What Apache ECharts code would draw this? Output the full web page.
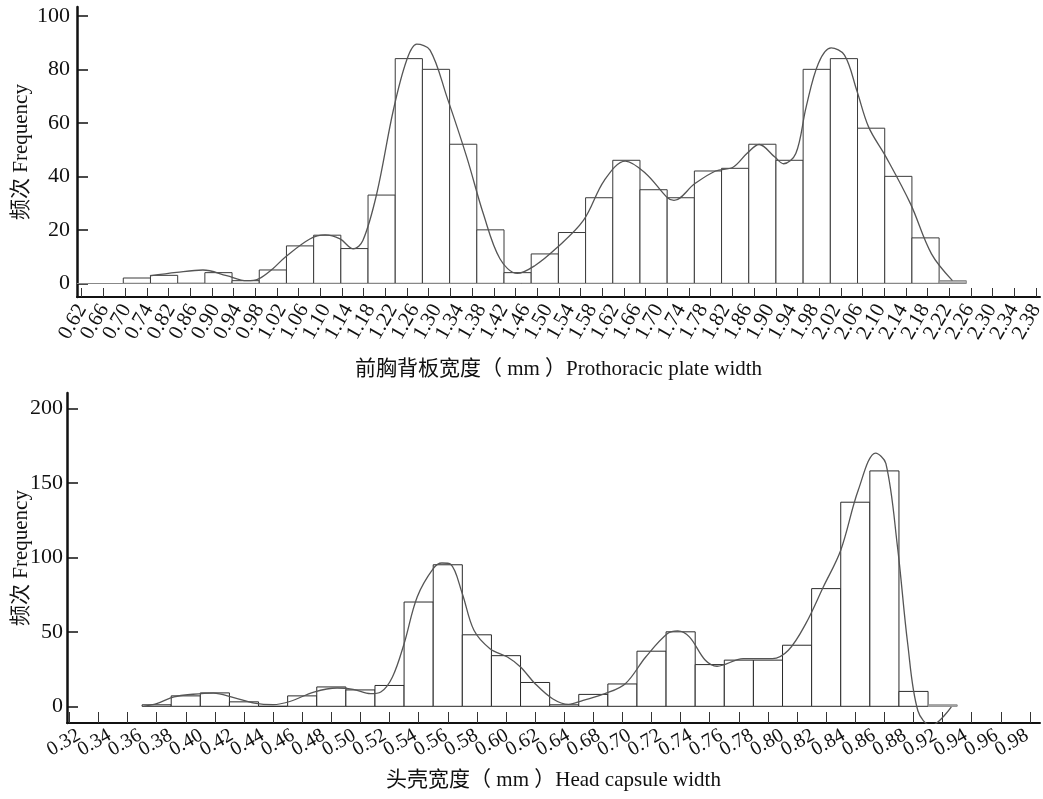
<!DOCTYPE html>
<html>
<head>
<meta charset="utf-8">
<script src="https://cdn.jsdelivr.net/npm/echarts@6/dist/echarts.min.js"></script>
<style>
html,body{margin:0;padding:0;background:#fff;}
#chart{width:1043px;height:799px;}
</style>
</head>
<body>
<div id="chart"></div>
<script>
// ---------- Upper panel: prothoracic plate width ----------
const prothoraxCounts = [2, 3, 0, 4, 1, 5, 14, 18, 13, 33, 84, 80, 52, 20, 4, 11, 19, 32, 46, 35, 32, 42, 43, 52, 46, 80, 84, 58, 40, 17, 1];
// fitted curve, x in bin units (bin i spans i..i+1), y = frequency
const prothoraxCurve = [
  [0.98, 2.8], [1.96, 4.1], [2.93, 5.0], [3.80, 2.9], [4.54, 1.0], [4.96, 1.6], [5.50, 5.5], [5.94, 9.7],
  [6.86, 16.6], [7.42, 18.1], [7.97, 16.6], [8.46, 12.9], [8.81, 16.0], [9.32, 33.5], [9.93, 64.7],
  [10.42, 83.4], [10.79, 89.4], [11.28, 87.2], [11.90, 69.7], [12.63, 47.2], [13.24, 26.0], [13.85, 9.2],
  [14.49, 3.7], [15.13, 6.6], [15.90, 12.9], [16.92, 23.5], [17.69, 38.5], [18.46, 45.7], [19.22, 41.0],
  [19.99, 32.2], [20.25, 31.0], [21.01, 37.2], [21.78, 42.0], [22.42, 43.4], [22.93, 48.5], [23.38, 51.9],
  [23.96, 47.2], [24.28, 44.7], [24.73, 48.5], [25.11, 65.9], [25.56, 82.2], [26.03, 88.0], [26.52, 85.3],
  [26.97, 72.2], [27.41, 58.4], [28.05, 47.2], [28.95, 29.7], [29.72, 11.0], [30.49, 1.0]
];
const prothoraxPeakNames = ['1', '2', '3', '4', '5', '6'];
const prothoraxPeakPos = [[3.21, 9.1], [7.64, 24.1], [11.06, 95.9], [18.69, 53.2], [23.47, 60.1], [26.07, 95.9]];
const prothoraxTickValues = [0.62, 0.66, 0.70, 0.74, 0.78, 0.82, 0.86, 0.90, 0.94, 0.98, 1.02, 1.06, 1.10, 1.14, 1.18,
  1.22, 1.26, 1.30, 1.34, 1.38, 1.42, 1.46, 1.50, 1.54, 1.58, 1.62, 1.66, 1.70, 1.74, 1.78, 1.82, 1.86, 1.90,
  1.94, 1.98, 2.02, 2.06, 2.10, 2.14, 2.18, 2.22, 2.26, 2.30, 2.34, 2.38];
const prothoraxTickLabels = ['0.62', '0.66', '0.70', '0.74', '0.82', '0.86', '0.90', '0.94', '0.98', '1.02', '1.06',
  '1.10', '1.14', '1.18', '1.22', '1.26', '1.30', '1.34', '1.38', '1.42', '1.46', '1.50', '1.54', '1.58', '1.62',
  '1.66', '1.70', '1.74', '1.78', '1.82', '1.86', '1.90', '1.94', '1.98', '2.02', '2.06', '2.10', '2.14', '2.18',
  '2.22', '2.26', '2.30', '2.34', '2.38'];
const prothoraxFreqTicks = [0, 20, 40, 60, 80, 100];

// ---------- Lower panel: head capsule width ----------
const headCenters = [0.38, 0.40, 0.42, 0.44, 0.46, 0.48, 0.50, 0.52, 0.54, 0.56, 0.58, 0.60, 0.62, 0.64,
  0.66, 0.68, 0.70, 0.72, 0.74, 0.76, 0.78, 0.80, 0.82, 0.84, 0.86, 0.88, 0.90, 0.92];
const headCounts = [1, 7, 9, 3, 0, 7, 13, 11, 14, 70, 95, 48, 34, 16, 1, 8, 15, 37, 50, 28, 31, 31, 41, 79, 137, 158, 10, 1];
const headCurve = [
  [0.371, 0], [0.380, 1.8], [0.392, 6.3], [0.405, 8.1], [0.419, 8.9], [0.433, 5.8], [0.447, 2.2], [0.460, 1.1],
  [0.472, 3.4], [0.488, 9.6], [0.504, 12.3], [0.515, 11.4], [0.527, 8.5], [0.534, 9.6], [0.542, 19.7],
  [0.550, 42.0], [0.559, 73.4], [0.570, 92.4], [0.576, 96.2], [0.582, 95.3], [0.590, 75.6], [0.598, 51.0],
  [0.609, 38.7], [0.621, 33.1], [0.630, 26.4], [0.640, 15.2], [0.652, 5.1], [0.663, 1.3], [0.673, 4.0],
  [0.688, 8.5], [0.702, 15.2], [0.716, 33.1], [0.731, 48.8], [0.738, 50.6], [0.746, 46.6], [0.757, 30.9],
  [0.765, 26.9], [0.783, 32.0], [0.803, 32.0], [0.814, 37.6], [0.826, 55.5], [0.838, 80.1], [0.850, 104.8],
  [0.862, 145.0], [0.874, 170.0], [0.881, 163.0], [0.889, 107.0], [0.896, 42.0], [0.903, -3.0], [0.912, -13.0],
  [0.926, -0.4]
];
const headPeakNames = ['1', '2', '3', '4', '5'];
const headPeakPos = [[0.4237, 24.6], [0.5107, 23.1], [0.5817, 110.3], [0.7379, 62.7], [0.8747, 188.7]];
const headTickValues = [0.32, 0.34, 0.36, 0.38, 0.40, 0.42, 0.44, 0.46, 0.48, 0.50, 0.52, 0.54, 0.56, 0.58,
  0.60, 0.62, 0.64, 0.66, 0.68, 0.70, 0.72, 0.74, 0.76, 0.78, 0.80, 0.82, 0.84, 0.86, 0.88, 0.90, 0.92,
  0.94, 0.96, 0.98];
const headTickLabels = ['0.32', '0.34', '0.36', '0.38', '0.40', '0.42', '0.44', '0.46', '0.48', '0.50', '0.52',
  '0.54', '0.56', '0.58', '0.60', '0.62', '0.64', '0.68', '0.70', '0.72', '0.74', '0.76', '0.78', '0.80',
  '0.82', '0.84', '0.86', '0.88', '0.92', '0.94', '0.96', '0.98'];
const headFreqTicks = [0, 50, 100, 150, 200];

// ---------- styling constants ----------
const SERIF = "'Liberation Serif', 'Noto Sans CJK SC', serif";
const SANS = "'Liberation Sans', Arial, sans-serif";
const INK = '#111';
const BIN_AXIS_MIN = -1.702;
const BIN_AXIS_MAX = 33.71;
const HEAD_BIN_WIDTH = 0.02;

const chart = echarts.init(document.getElementById('chart'), null, { renderer: 'canvas' });

function topBarItem(params, api) {
  const i = api.value(0), v = api.value(1);
  const a = api.coord([i, v]);
  const b = api.coord([i + 1, 0]);
  const last = params.dataIndex === prothoraxCounts.length - 1;
  return {
    type: 'rect',
    shape: { x: a[0], y: a[1], width: b[0] - a[0], height: b[1] - a[1] },
    style: { fill: last ? '#b8b8b8' : '#fff', stroke: last ? '#888' : '#3a3a3a', lineWidth: 1 }
  };
}
function bottomBarItem(params, api) {
  const c = api.value(0), v = api.value(1);
  const a = api.coord([c - HEAD_BIN_WIDTH / 2, v]);
  const b = api.coord([c + HEAD_BIN_WIDTH / 2, 0]);
  const last = params.dataIndex === headCounts.length - 1;
  return {
    type: 'rect',
    shape: { x: a[0], y: a[1], width: b[0] - a[0], height: b[1] - a[1] },
    style: { fill: last ? '#b8b8b8' : '#fff', stroke: last ? '#888' : '#2a2a2a', lineWidth: 1 }
  };
}

const tickLabelStyle = { fontFamily: SERIF, color: INK };

const option = {
  animation: false,
  backgroundColor: '#fff',
  grid: [
    { left: 77, right: 3, top: 7, height: 290, containLabel: false, outerBoundsMode: 'none' },
    { left: 82, right: 7, top: 7, height: 290, containLabel: false, outerBoundsMode: 'none' },
    { left: 67, right: 3, top: 393, height: 330, containLabel: false, outerBoundsMode: 'none' },
    { left: 79, right: 16, top: 393, height: 330, containLabel: false, outerBoundsMode: 'none' }
  ],
  xAxis: [
    { // 0: upper, mm scale (ticks)
      gridIndex: 0, type: 'value', min: 0.6113, max: 2.3873, position: 'bottom',
      axisLine: { show: true, onZero: false, lineStyle: { color: INK, width: 2 } },
      axisTick: { show: true, inside: true, length: 9, customValues: prothoraxTickValues, lineStyle: { color: '#333', width: 1 } },
      axisLabel: { show: false },
      splitLine: { show: false },
      name: '前胸背板宽度（ mm ）Prothoracic plate width', nameLocation: 'middle', nameGap: 62,
      nameMoveOverlap: false,
      nameTextStyle: { fontFamily: SERIF, fontSize: 21, color: INK }
    },
    { // 1: upper, bin index (hidden)
      gridIndex: 0, type: 'value', min: BIN_AXIS_MIN, max: BIN_AXIS_MAX, show: false
    },
    { // 2: upper tick labels
      gridIndex: 1, type: 'category', data: prothoraxTickLabels, boundaryGap: false, position: 'bottom',
      axisLine: { show: false }, axisTick: { show: false }, splitLine: { show: false },
      axisLabel: Object.assign({ interval: 0, rotate: 60, margin: 9, fontSize: 21 }, tickLabelStyle)
    },
    { // 3: lower, mm scale (ticks)
      gridIndex: 2, type: 'value', min: 0.3184, max: 0.9869, position: 'bottom',
      axisLine: { show: true, onZero: false, lineStyle: { color: INK, width: 2 } },
      axisTick: { show: true, inside: true, length: 11, customValues: headTickValues, lineStyle: { color: '#333', width: 1 } },
      axisLabel: { show: false },
      splitLine: { show: false },
      name: '头壳宽度（ mm ）Head capsule width', nameLocation: 'middle', nameGap: 47,
      nameMoveOverlap: false,
      nameTextStyle: { fontFamily: SERIF, fontSize: 21, color: INK }
    },
    { // 4: lower tick labels
      gridIndex: 3, type: 'category', data: headTickLabels, boundaryGap: false, position: 'bottom',
      axisLine: { show: false }, axisTick: { show: false }, splitLine: { show: false },
      axisLabel: Object.assign({ interval: 0, rotate: 30, margin: 11, fontSize: 20 }, tickLabelStyle)
    }
  ],
  yAxis: [
    {
      gridIndex: 0, type: 'value', min: -5.1, max: 103.3,
      axisLine: { show: true, onZero: false, lineStyle: { color: INK, width: 2.5 } },
      axisTick: { show: true, inside: true, length: 11, customValues: prothoraxFreqTicks, lineStyle: { color: INK, width: 1.5 } },
      axisLabel: Object.assign({ customValues: prothoraxFreqTicks, fontSize: 22, margin: 7 }, tickLabelStyle),
      splitLine: { show: false },
      name: '频次 Frequency', nameLocation: 'middle', nameGap: 45,
      nameMoveOverlap: false,
      nameTextStyle: { fontFamily: SERIF, fontSize: 21, color: INK }
    },
    { gridIndex: 1, type: 'value', min: 0, max: 1, show: false },
    {
      gridIndex: 2, type: 'value', min: -11.2, max: 210.3,
      axisLine: { show: true, onZero: false, lineStyle: { color: INK, width: 2.5 } },
      axisTick: { show: true, inside: true, length: 11, customValues: headFreqTicks, lineStyle: { color: INK, width: 1.5 } },
      axisLabel: Object.assign({ customValues: headFreqTicks, fontSize: 22, margin: 4 }, tickLabelStyle),
      splitLine: { show: false },
      name: '频次 Frequency', nameLocation: 'middle', nameGap: 35,
      nameMoveOverlap: false,
      nameTextStyle: { fontFamily: SERIF, fontSize: 21, color: INK }
    },
    { gridIndex: 3, type: 'value', min: 0, max: 1, show: false }
  ],
  series: [
    {
      type: 'custom', xAxisIndex: 1, yAxisIndex: 0,
      renderItem: topBarItem, encode: { x: 0, y: 1 },
      data: prothoraxCounts.map((v, i) => [i, v]),
      markLine: {
        silent: true, symbol: 'none', label: { show: false },
        lineStyle: { color: '#888', width: 1, type: 'solid' },
        data: [[{ coord: [BIN_AXIS_MIN, 0] }, { coord: [prothoraxCounts.length, 0] }]]
      }
    },
    {
      type: 'line', xAxisIndex: 1, yAxisIndex: 0, data: prothoraxCurve,
      smooth: 0.35, showSymbol: false, symbol: 'none',
      lineStyle: { color: '#555', width: 1.3 }
    },
    {
      type: 'scatter', xAxisIndex: 1, yAxisIndex: 0, symbolSize: 1,
      itemStyle: { opacity: 0 },
      data: prothoraxPeakPos.map((p, i) => ({ name: prothoraxPeakNames[i], value: p })),
      label: { show: true, position: 'inside', formatter: '{b}', fontFamily: SANS, fontSize: 15, color: '#222' }
    },
    {
      type: 'custom', xAxisIndex: 3, yAxisIndex: 2,
      renderItem: bottomBarItem, encode: { x: 0, y: 1 },
      data: headCenters.map((c, i) => [c, headCounts[i]])
    },
    {
      type: 'line', xAxisIndex: 3, yAxisIndex: 2, data: headCurve,
      smooth: 0.35, showSymbol: false, symbol: 'none', clip: true,
      lineStyle: { color: '#555', width: 1.3 }
    },
    {
      type: 'scatter', xAxisIndex: 3, yAxisIndex: 2, symbolSize: 1,
      itemStyle: { opacity: 0 },
      data: headPeakPos.map((p, i) => ({ name: headPeakNames[i], value: p })),
      label: { show: true, position: 'inside', formatter: '{b}', fontFamily: SANS, fontSize: 15, color: '#222' }
    }
  ]
};
chart.setOption(option);
</script>
</body>
</html>
